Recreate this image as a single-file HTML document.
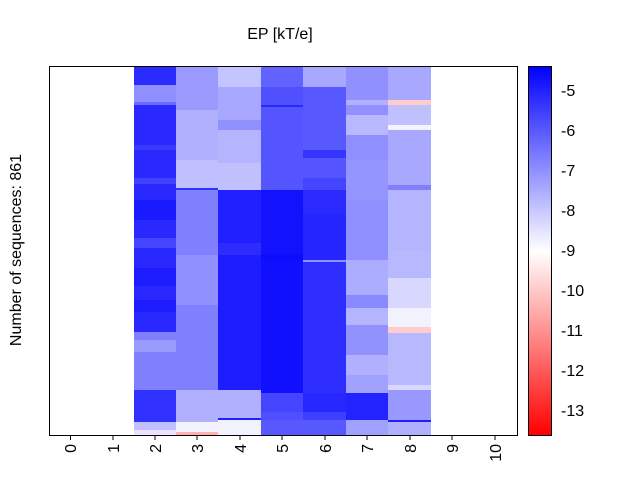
<!DOCTYPE html>
<html><head><meta charset="utf-8"><style>
body{margin:0;background:#fff;}
svg text{font-family:"Liberation Sans",sans-serif;}
</style></head><body>
<svg width="640" height="480" xmlns="http://www.w3.org/2000/svg">
<defs>
<linearGradient id="cb" x1="0" y1="0" x2="0" y2="1">
<stop offset="0" stop-color="#0000ff"/><stop offset="0.5" stop-color="#ffffff"/><stop offset="1" stop-color="#ff0000"/>
</linearGradient>
</defs>
<rect width="640" height="480" fill="#fff"/>
<g shape-rendering="crispEdges">
<!-- col2 -->
<rect x="134" y="66" width="42" height="19" fill="#2b2bff"/>
<rect x="134" y="85" width="42" height="17" fill="#8f8fff"/>
<rect x="134" y="102" width="42" height="3" fill="#6a6aff"/>
<rect x="134" y="105" width="42" height="227" fill="#2828ff"/>
<rect x="134" y="145" width="42" height="5" fill="#3a3aff"/>
<rect x="134" y="178" width="42" height="6" fill="#4040ff"/>
<rect x="134" y="200" width="42" height="20" fill="#1a1aff"/>
<rect x="134" y="238" width="42" height="10" fill="#4545ff"/>
<rect x="134" y="268" width="42" height="18" fill="#1c1cff"/>
<rect x="134" y="300" width="42" height="12" fill="#1c1cff"/>
<rect x="134" y="332" width="42" height="58" fill="#8080ff"/>
<rect x="134" y="340" width="42" height="12" fill="#9a9aff"/>
<rect x="134" y="390" width="42" height="32" fill="#3030ff"/>
<rect x="134" y="422" width="42" height="8" fill="#c0c0ff"/>
<rect x="134" y="430" width="42" height="5" fill="#f0e0ff"/>
<!-- col3 -->
<rect x="176" y="66" width="42" height="44" fill="#9a9aff"/>
<rect x="176" y="110" width="42" height="50" fill="#b0b0ff"/>
<rect x="176" y="160" width="42" height="28" fill="#c0c0ff"/>
<rect x="176" y="188" width="42" height="2" fill="#3030ff"/>
<rect x="176" y="190" width="42" height="65" fill="#8080ff"/>
<rect x="176" y="255" width="42" height="50" fill="#9090ff"/>
<rect x="176" y="305" width="42" height="85" fill="#8080ff"/>
<rect x="176" y="390" width="42" height="32" fill="#b0b0ff"/>
<rect x="176" y="422" width="42" height="10" fill="#f3f3ff"/>
<rect x="176" y="432" width="42" height="3" fill="#ffb0b0"/>
<!-- col4 -->
<rect x="218" y="66" width="43" height="21" fill="#c4c4ff"/>
<rect x="218" y="87" width="43" height="33" fill="#a8a8ff"/>
<rect x="218" y="120" width="43" height="10" fill="#9090ff"/>
<rect x="218" y="130" width="43" height="33" fill="#b5b5ff"/>
<rect x="218" y="163" width="43" height="27" fill="#c0c0ff"/>
<rect x="218" y="190" width="43" height="53" fill="#1f1fff"/>
<rect x="218" y="243" width="43" height="12" fill="#2c2cff"/>
<rect x="218" y="255" width="43" height="135" fill="#1c1cff"/>
<rect x="218" y="390" width="43" height="28" fill="#b0b0ff"/>
<rect x="218" y="418" width="43" height="2" fill="#2020ff"/>
<rect x="218" y="420" width="43" height="15" fill="#f2f2ff"/>
<!-- col5 -->
<rect x="261" y="66" width="42" height="21" fill="#6262ff"/>
<rect x="261" y="87" width="42" height="18" fill="#5050ff"/>
<rect x="261" y="105" width="42" height="2" fill="#2a2aff"/>
<rect x="261" y="107" width="42" height="83" fill="#5555ff"/>
<rect x="261" y="190" width="42" height="64" fill="#1212ff"/>
<rect x="261" y="254" width="42" height="6" fill="#0c0cff"/>
<rect x="261" y="260" width="42" height="133" fill="#1010ff"/>
<rect x="261" y="393" width="42" height="19" fill="#4545ff"/>
<rect x="261" y="412" width="42" height="8" fill="#4f4fff"/>
<rect x="261" y="420" width="42" height="15" fill="#5858ff"/>
<!-- col6 -->
<rect x="303" y="66" width="43" height="21" fill="#a8a8ff"/>
<rect x="303" y="87" width="43" height="63" fill="#5858ff"/>
<rect x="303" y="150" width="43" height="8" fill="#3535ff"/>
<rect x="303" y="158" width="43" height="20" fill="#5555ff"/>
<rect x="303" y="178" width="43" height="12" fill="#4545ff"/>
<rect x="303" y="190" width="43" height="24" fill="#2a2aff"/>
<rect x="303" y="214" width="43" height="46" fill="#2525ff"/>
<rect x="303" y="260" width="43" height="2" fill="#9090ff"/>
<rect x="303" y="262" width="43" height="131" fill="#2d2dff"/>
<rect x="303" y="393" width="43" height="19" fill="#2727ff"/>
<rect x="303" y="412" width="43" height="8" fill="#3f3fff"/>
<rect x="303" y="420" width="43" height="15" fill="#5858ff"/>
<!-- col7 -->
<rect x="346" y="66" width="42" height="34" fill="#9090ff"/>
<rect x="346" y="100" width="42" height="5" fill="#b0b0ff"/>
<rect x="346" y="105" width="42" height="10" fill="#9090ff"/>
<rect x="346" y="115" width="42" height="20" fill="#b8b8ff"/>
<rect x="346" y="135" width="42" height="25" fill="#8f8fff"/>
<rect x="346" y="160" width="42" height="40" fill="#9595ff"/>
<rect x="346" y="200" width="42" height="60" fill="#8f8fff"/>
<rect x="346" y="260" width="42" height="35" fill="#adadff"/>
<rect x="346" y="295" width="42" height="13" fill="#8a8aff"/>
<rect x="346" y="308" width="42" height="17" fill="#b5b5ff"/>
<rect x="346" y="325" width="42" height="30" fill="#9292ff"/>
<rect x="346" y="355" width="42" height="20" fill="#b0b0ff"/>
<rect x="346" y="375" width="42" height="18" fill="#a0a0ff"/>
<rect x="346" y="393" width="42" height="27" fill="#2323ff"/>
<rect x="346" y="420" width="42" height="15" fill="#a0a0ff"/>
<!-- col8 -->
<rect x="388" y="66" width="43" height="34" fill="#a8a8ff"/>
<rect x="388" y="100" width="43" height="5" fill="#ffcccc"/>
<rect x="388" y="105" width="43" height="20" fill="#c0c0ff"/>
<rect x="388" y="125" width="43" height="5" fill="#f3f3ff"/>
<rect x="388" y="130" width="43" height="55" fill="#a8a8ff"/>
<rect x="388" y="185" width="43" height="5" fill="#8080ff"/>
<rect x="388" y="190" width="43" height="60" fill="#b5b5ff"/>
<rect x="388" y="250" width="43" height="28" fill="#b8b8ff"/>
<rect x="388" y="278" width="43" height="30" fill="#d8d8ff"/>
<rect x="388" y="308" width="43" height="19" fill="#f2f2ff"/>
<rect x="388" y="327" width="43" height="6" fill="#ffcccc"/>
<rect x="388" y="333" width="43" height="52" fill="#b8b8ff"/>
<rect x="388" y="385" width="43" height="5" fill="#d8d8ff"/>
<rect x="388" y="390" width="43" height="30" fill="#9898ff"/>
<rect x="388" y="420" width="43" height="2" fill="#2020ff"/>
<rect x="388" y="422" width="43" height="13" fill="#b0b0ff"/>
</g>
<rect x="49.5" y="66.5" width="468" height="369" fill="none" stroke="#000" stroke-width="1"/>
<g stroke="#000" stroke-width="1">
<line x1="70.5" y1="436" x2="70.5" y2="440"/><line x1="113" y1="436" x2="113" y2="440"/>
<line x1="155" y1="436" x2="155" y2="440"/><line x1="197" y1="436" x2="197" y2="440"/>
<line x1="240" y1="436" x2="240" y2="440"/><line x1="282" y1="436" x2="282" y2="440"/>
<line x1="325" y1="436" x2="325" y2="440"/><line x1="367" y1="436" x2="367" y2="440"/>
<line x1="410" y1="436" x2="410" y2="440"/><line x1="452" y1="436" x2="452" y2="440"/>
<line x1="495" y1="436" x2="495" y2="440"/>
</g>
<g font-size="16" fill="#000" text-anchor="end">
<text transform="translate(76,444) rotate(-90)">0</text>
<text transform="translate(119,444) rotate(-90)">1</text>
<text transform="translate(161,444) rotate(-90)">2</text>
<text transform="translate(203,444) rotate(-90)">3</text>
<text transform="translate(246,444) rotate(-90)">4</text>
<text transform="translate(288,444) rotate(-90)">5</text>
<text transform="translate(331,444) rotate(-90)">6</text>
<text transform="translate(373,444) rotate(-90)">7</text>
<text transform="translate(416,444) rotate(-90)">8</text>
<text transform="translate(458,444) rotate(-90)">9</text>
<text transform="translate(501,444) rotate(-90)">10</text>
</g>
<text x="280" y="39" font-size="16" text-anchor="middle">EP [kT/e]</text>
<text transform="translate(21,250) rotate(-90)" font-size="16" text-anchor="middle">Number of sequences: 861</text>
<rect x="528.5" y="66.5" width="23" height="369" fill="url(#cb)" stroke="#000" stroke-width="1"/>
<g font-size="16">
<text x="561" y="96">-5</text><text x="561" y="136">-6</text><text x="561" y="176">-7</text>
<text x="561" y="216">-8</text><text x="561" y="256">-9</text><text x="561" y="296">-10</text>
<text x="561" y="336">-11</text><text x="561" y="376">-12</text><text x="561" y="416">-13</text>
</g>
</svg>
</body></html>
